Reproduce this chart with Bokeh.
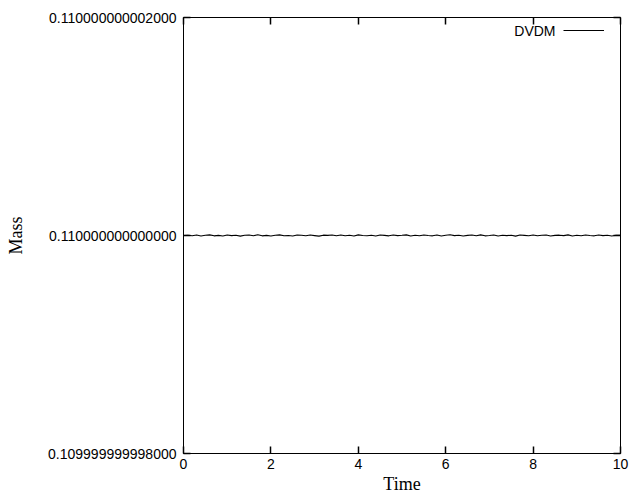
import numpy as np
from bokeh.plotting import figure
from bokeh.models import Range1d, FixedTicker, PrintfTickFormatter, Label, LinearAxis, CustomJSTickFormatter
from bokeh.embed import file_html
from bokeh.resources import INLINE

# deviations from 0.11 (units of 1e-15)
dev = [0, 3, -2, 4, -5, 2, 6, -3, 1, -4, 5, -1, 3, -6, 2, 4, -2, 7, -3, 1,
       -5, 3, 6, -2, 0, -4, 5, 2, -3, 4, -1, -6, 3, 1, 5, -2, 4, -3, 2, -5,
       6, 0, -2, 3, -4, 5, 1, -3, 4, -1, 2, 6, -5, 3, -2, 4, 0, -3, 5, -4,
       2, 7, -1, 3, -5, 1, 4, -2, 6, -3, 0, 5, -4, 2, -1, 3, -6, 4, 1, -2,
       5, -3, 2, 4, -5, 1, 3, -1, 6, -4, 2, -2, 5, 0, -3, 4, -1, 3, -5, 2, 1]
base_mass = 0.11
time = np.linspace(0, 10, len(dev))
mass = [base_mass + d * 1e-15 for d in dev]

x_ticks = [0, 2, 4, 6, 8, 10]
y_ticks = [0.109999999998, 0.11, 0.110000000002]
x_lo, x_hi = 0, 10
y_lo, y_hi = 0.109999999998, 0.110000000002
series_name = "DVDM"

p = figure(width=632, height=498, output_backend="svg", toolbar_location=None,
           x_range=Range1d(x_lo, x_hi), y_range=Range1d(y_lo, y_hi),
           min_border_left=183, min_border_right=12, min_border_top=17, min_border_bottom=45)

r = p.line(time, mass, line_color="black", line_width=1.1, legend_label=" ")

p.xgrid.visible = False
p.ygrid.visible = False
p.outline_line_color = "black"
p.outline_line_width = 1
p.background_fill_color = "white"
p.border_fill_color = "white"

tick_font = "Liberation Sans"
lab_font = "Liberation Serif"

xa = p.xaxis[0]
xa.ticker = FixedTicker(ticks=x_ticks)
xa.major_tick_in = 7
xa.major_tick_out = 0
xa.major_tick_line_color = "black"
xa.major_tick_line_width = 1.5
xa.minor_tick_in = 0
xa.minor_tick_out = 0
xa.axis_line_color = "black"
xa.major_label_text_font = tick_font
xa.major_label_text_font_size = "14px"
xa.major_label_text_color = "black"
xa.major_label_standoff = 5
xa.axis_label = "Time"
xa.axis_label_text_font = lab_font
xa.axis_label_text_font_style = "normal"
xa.axis_label_text_font_size = "18px"
xa.axis_label_text_color = "black"
xa.axis_label_standoff = 2

ya = p.yaxis[0]
ya.ticker = FixedTicker(ticks=y_ticks)
ya.formatter = PrintfTickFormatter(format="%.15f")
ya.major_tick_in = 7
ya.major_tick_out = 0
ya.major_tick_line_color = "black"
ya.major_tick_line_width = 1.5
ya.minor_tick_in = 0
ya.minor_tick_out = 0
ya.axis_line_color = "black"
ya.major_label_text_font = tick_font
ya.major_label_text_font_size = "14px"
ya.major_label_text_color = "black"
ya.major_label_standoff = 7
ya.axis_label = "Mass"
ya.axis_label_text_font = lab_font
ya.axis_label_text_font_style = "normal"
ya.axis_label_text_font_size = "18px"
ya.axis_label_text_color = "black"
ya.axis_label_standoff = 19

# mirrored inward ticks on the top and right (gnuplot style)
blank = CustomJSTickFormatter(code="return ''")
mirror_kw = dict(formatter=blank, major_tick_in=7, major_tick_out=0,
                 major_tick_line_color="black", major_tick_line_width=1.5,
                 minor_tick_in=0, minor_tick_out=0, axis_line_color=None,
                 major_label_standoff=0)
p.add_layout(LinearAxis(ticker=FixedTicker(ticks=y_ticks), **mirror_kw), "right")
p.add_layout(LinearAxis(ticker=FixedTicker(ticks=x_ticks), **mirror_kw), "above")

# gnuplot-like key: label on the left, line sample on the right
lg = p.legend[0]
lg.location = (380, 413)
lg.border_line_alpha = 0
lg.background_fill_alpha = 0
lg.label_text_font_size = "14px"
lg.glyph_width = 41
lg.glyph_height = 20
lg.label_standoff = 0
lg.margin = 0
lg.padding = 0

p.add_layout(Label(x=372, y=423, x_units="screen", y_units="screen", text=series_name,
                   text_align="right", text_baseline="middle", text_font=tick_font,
                   text_font_size="14px", text_color="black"))

open("out.html", "w").write(file_html(p, INLINE))
